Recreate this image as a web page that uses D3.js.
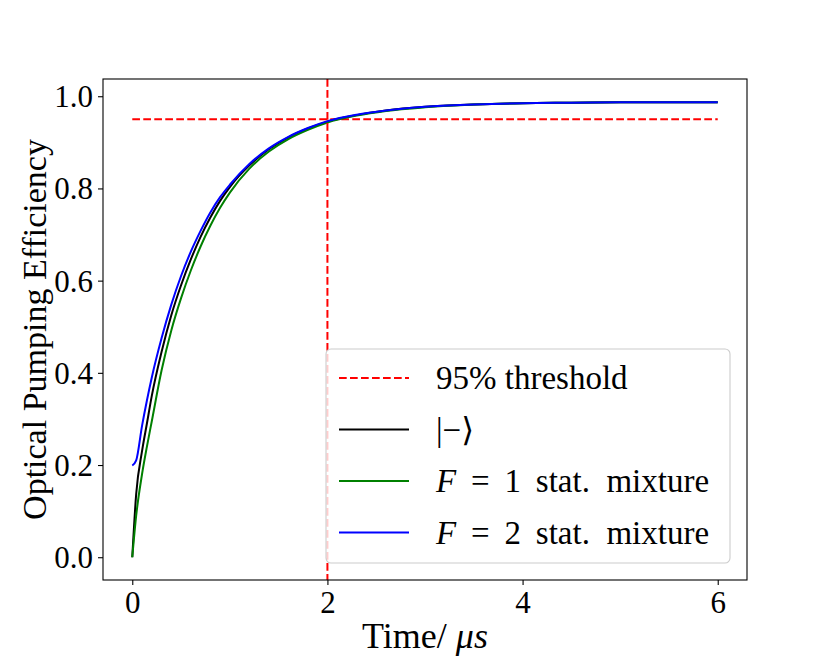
<!DOCTYPE html>
<html>
<head>
<meta charset="utf-8">
<script src="https://cdn.jsdelivr.net/npm/d3@7"></script>
<style>
  body { margin: 0; background: #fff; }
</style>
</head>
<body>
<div id="chart"></div>
<script>
// values
const times = [0, 0.04, 0.1, 0.15, 0.2, 0.3, 0.4, 0.5, 0.6, 0.7, 0.8, 0.9, 1.0, 1.2, 1.4, 1.6, 1.8, 2.0, 2.3, 2.6, 3.0, 3.5, 4.0, 4.5, 5.0, 5.5, 6.0];
const minusState = [0, 0.137, 0.23, 0.29, 0.35, 0.445, 0.525, 0.59, 0.646, 0.695, 0.737, 0.773, 0.803, 0.85, 0.885, 0.911, 0.93, 0.945, 0.959, 0.969, 0.977, 0.982, 0.985, 0.986, 0.987, 0.987, 0.987];
const f1Mixture = [0, 0.09, 0.18, 0.24, 0.295, 0.405, 0.492, 0.562, 0.622, 0.674, 0.719, 0.758, 0.791, 0.843, 0.88, 0.907, 0.927, 0.943, 0.958, 0.968, 0.976, 0.982, 0.985, 0.986, 0.987, 0.987, 0.987];
const f2Mixture = [0.199, 0.21, 0.285, 0.34, 0.39, 0.475, 0.548, 0.61, 0.663, 0.708, 0.748, 0.781, 0.808, 0.853, 0.887, 0.912, 0.931, 0.946, 0.96, 0.969, 0.977, 0.982, 0.985, 0.986, 0.987, 0.987, 0.987];
const threshold = 0.95;
const thresholdTime = 2;
const xTicks = [0, 2, 4, 6];
const yTicks = [0.0, 0.2, 0.4, 0.6, 0.8, 1.0];

const W = 830, H = 664;
const margin = { left: 103, right: 83, top: 79, bottom: 84 };
const FONT = 'Liberation Serif, DejaVu Serif, serif';

const svg = d3.select('#chart').append('svg')
  .attr('width', W)
  .attr('height', H)
  .attr('font-family', FONT);

const x = d3.scaleLinear().domain([-0.3, 6.3]).range([margin.left, W - margin.right]);
const y = d3.scaleLinear().domain([-0.0494, 1.0374]).range([H - margin.bottom, margin.top]);

const plot = svg.append('g');
plot.append('clipPath').attr('id', 'clip')
  .append('rect')
  .attr('x', margin.left).attr('y', margin.top)
  .attr('width', W - margin.left - margin.right)
  .attr('height', H - margin.top - margin.bottom);

const dash = '7.7,3.3';

// threshold line
plot.append('line')
  .attr('x1', x(0)).attr('x2', x(6))
  .attr('y1', y(threshold)).attr('y2', y(threshold))
  .attr('stroke', 'red').attr('stroke-width', 2).attr('stroke-dasharray', dash);

const series = [
  { name: 'minus', values: minusState, color: '#000000' },
  { name: 'f1', values: f1Mixture, color: '#008000' },
  { name: 'f2', values: f2Mixture, color: '#0000ff' }
];

const line = d3.line()
  .x((d, i) => x(times[i]))
  .y(d => y(d))
  .curve(d3.curveMonotoneX);

series.forEach(s => {
  plot.append('path')
    .datum(s.values)
    .attr('fill', 'none')
    .attr('stroke', s.color)
    .attr('stroke-width', 2)
    .attr('stroke-linejoin', 'round')
    .attr('clip-path', 'url(#clip)')
    .attr('d', line);
});

plot.append('line')
  .attr('x1', x(thresholdTime)).attr('x2', x(thresholdTime))
  .attr('y1', margin.top).attr('y2', H - margin.bottom)
  .attr('stroke', 'red').attr('stroke-width', 2).attr('stroke-dasharray', dash);

// axes
const xAxis = svg.append('g')
  .attr('transform', `translate(0,${H - margin.bottom})`)
  .call(d3.axisBottom(x).tickValues(xTicks).tickFormat(d3.format('d')).tickSizeOuter(0).tickSize(5).tickPadding(6));
const yAxis = svg.append('g')
  .attr('transform', `translate(${margin.left},0)`)
  .call(d3.axisLeft(y).tickValues(yTicks).tickFormat(d3.format('.1f')).tickSizeOuter(0).tickSize(5).tickPadding(5));

[xAxis, yAxis].forEach(a => {
  a.attr('font-family', FONT).attr('font-size', 31);
  a.select('.domain').remove();
  a.selectAll('.tick line').attr('stroke', '#000').attr('stroke-width', 1.1);
  a.selectAll('.tick text').attr('fill', '#000');
});
yAxis.selectAll('.tick text').attr('dy', '0.34em');

svg.append('rect')
  .attr('x', margin.left).attr('y', margin.top)
  .attr('width', W - margin.left - margin.right)
  .attr('height', H - margin.top - margin.bottom)
  .attr('fill', 'none')
  .attr('stroke', '#000')
  .attr('stroke-width', 1.1);

// axis labels
const xl = svg.append('text')
  .attr('x', (margin.left + W - margin.right) / 2)
  .attr('y', 648)
  .attr('text-anchor', 'middle')
  .attr('font-size', 36);
xl.append('tspan').text('Time/ ');
xl.append('tspan').attr('font-style', 'italic').text('μs');

svg.append('text')
  .attr('transform', `translate(46,${(margin.top + H - margin.bottom) / 2}) rotate(-90)`)
  .attr('text-anchor', 'middle')
  .attr('font-size', 34)
  .text('Optical Pumping Efficiency');

// legend
const legend = svg.append('g');
legend.append('rect')
  .attr('x', 326).attr('y', 349)
  .attr('width', 404).attr('height', 214)
  .attr('rx', 5)
  .attr('fill', 'rgba(255,255,255,0.8)')
  .attr('stroke', '#cccccc')
  .attr('stroke-width', 1.1);

const legendItems = [
  { color: 'red', dashed: true, parts: [['95% threshold', false]] },
  { color: '#000000', parts: [['|−⟩', false]] },
  { color: '#008000', parts: [['F', true], ['\u2009 = \u2009', false], ['1\u2009 stat.\u2002mixture', false]] },
  { color: '#0000ff', parts: [['F', true], ['\u2009 = \u2009', false], ['2\u2009 stat.\u2002mixture', false]] }
];

legendItems.forEach((item, i) => {
  const cy = 378 + i * 51.5;
  legend.append('line')
    .attr('x1', 339).attr('x2', 409)
    .attr('y1', cy).attr('y2', cy)
    .attr('stroke', item.color)
    .attr('stroke-width', 2)
    .attr('stroke-dasharray', item.dashed ? dash : null);
  const t = legend.append('text')
    .attr('x', 436).attr('y', cy + 11)
    .attr('font-size', 33)
    .style('white-space', 'pre');
  item.parts.forEach(p => {
    t.append('tspan')
      .attr('font-style', p[1] ? 'italic' : 'normal')
      .text(p[0]);
  });
});
</script>
</body>
</html>
